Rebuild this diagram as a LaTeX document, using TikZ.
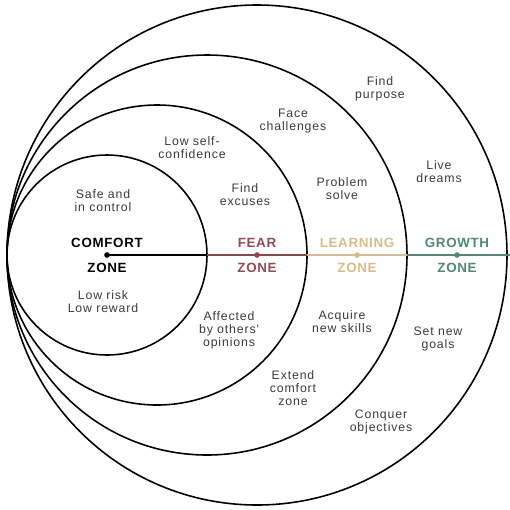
\documentclass[tikz,border=0pt]{standalone}
\usepackage{fontspec}
\setmainfont{Liberation Sans}
\newfontfamily\notefont[LetterSpace=7]{Liberation Sans}
\newfontfamily\zonefont[LetterSpace=5]{Liberation Sans}
\usepackage{tikz}
\usepackage{xcolor}
\usetikzlibrary{positioning}

\definecolor{fearred}{HTML}{98414B}
\definecolor{learnyellow}{HTML}{D6BC88}
\definecolor{growgreen}{HTML}{4E8A72}
\definecolor{notegray}{HTML}{3A3A3A}

\begin{document}
\begin{tikzpicture}[
    note/.style={align=center, inner sep=0pt, text=notegray,
        font=\notefont\fontsize{7}{7.4}\selectfont},
    zonelabel/.style={inner sep=0pt, font=\zonefont\bfseries\fontsize{7.6}{8}\selectfont},
    zonedot/.style={circle, fill, inner sep=0pt, minimum size=3.2pt}
]
    \useasboundingbox (-0.14,-5.08) rectangle (10.06,5.10);

    % The four zones - all touching at the left
    \draw[line width=0.9pt] (2,0) circle[radius=2cm];
    \draw[line width=0.9pt] (3,0) circle[radius=3cm];
    \draw[line width=0.9pt] (4,0) circle[radius=4cm];
    \draw[line width=0.9pt] (5,0) circle[radius=5cm];

    % Points on the axis
    \coordinate (comfortc) at (2,0);
    \coordinate (comforte) at (4,0);
    \coordinate (feare) at (6,0);
    \coordinate (learne) at (8,0);
    \coordinate (growe) at (10.06,0);

    % Axis, one colour per zone
    \draw[line width=1.1pt, black] (comfortc) -- (comforte);
    \draw[line width=1.1pt, fearred] (comforte) -- (feare);
    \draw[line width=1.1pt, learnyellow] (feare) -- (learne);
    \draw[line width=1.1pt, growgreen] (learne) -- (growe);

    % Dots
    \node[zonedot, black] (d1) at (2,0) {};
    \node[zonedot, fearred] (d2) at (5,0) {};
    \node[zonedot, learnyellow] (d3) at (7,0) {};
    \node[zonedot, growgreen] (d4) at (9,0) {};

    % Zone names
    \node[zonelabel, black] (comfort) at (2,0.25) {COMFORT};
    \node[zonelabel, black] (comfort2) at (2,-0.25) {ZONE};
    \node[zonelabel, fearred!85!gray] (fear) at (5,0.25) {FEAR};
    \node[zonelabel, fearred!85!gray] (fear2) at (5,-0.25) {ZONE};
    \node[zonelabel, learnyellow] (learn) at (7,0.25) {LEARNING};
    \node[zonelabel, learnyellow] (learn2) at (7,-0.25) {ZONE};
    \node[zonelabel, growgreen] (grow) at (9,0.25) {GROWTH};
    \node[zonelabel, growgreen] (grow2) at (9,-0.25) {ZONE};

    % Comfort zone notes
    \node[note] (n1) at (1.92,1.08) {Safe and\\in control};
    \node[note] (n2) at (1.92,-0.94) {Low risk\\Low reward};

    % Fear zone notes
    \node[note] (n3) at (3.70,2.14) {Low self-\\confidence};
    \node[note] (n4) at (4.76,1.20) {Find\\excuses};
    \node[note] (n5) at (4.44,-1.50) {Affected\\by others'\\opinions};

    % Learning zone notes
    \node[note] (n6) at (5.72,2.68) {Face\\challenges};
    \node[note] (n7) at (6.70,1.32) {Problem\\solve};
    \node[note] (n8) at (6.70,-1.34) {Acquire\\new skills};
    \node[note] (n9) at (5.72,-2.66) {Extend\\comfort\\zone};

    % Growth zone notes
    \node[note] (n10) at (7.46,3.32) {Find\\purpose};
    \node[note] (n11) at (8.64,1.66) {Live\\dreams};
    \node[note] (n12) at (8.62,-1.68) {Set new\\goals};
    \node[note] (n13) at (7.48,-3.34) {Conquer\\objectives};
\end{tikzpicture}
\end{document}
